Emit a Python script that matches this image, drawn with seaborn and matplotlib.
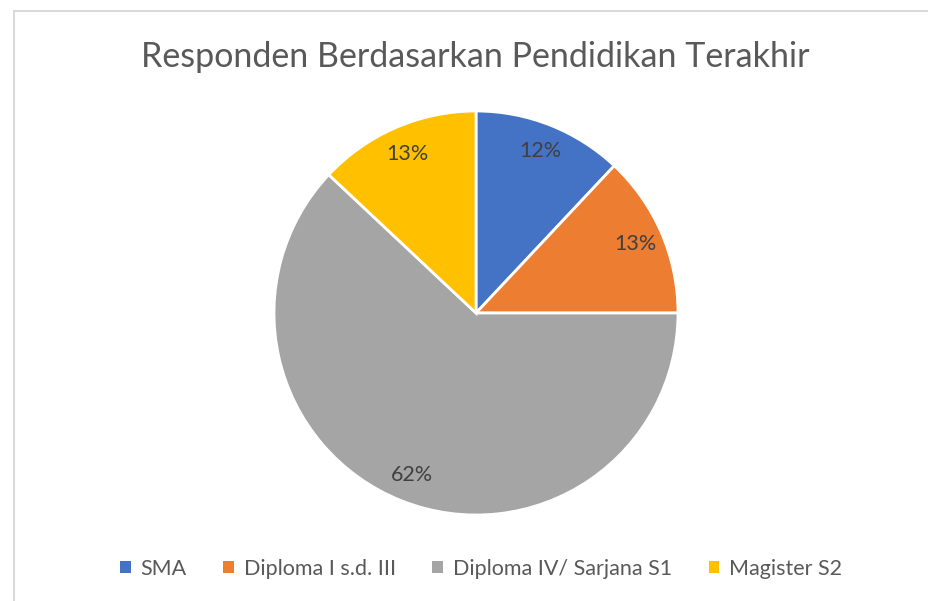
import matplotlib
matplotlib.use("Agg")
import matplotlib.pyplot as plt
from matplotlib.patches import Rectangle, Patch
import seaborn as sns

categories = ["SMA", "Diploma I s.d. III", "Diploma IV/ Sarjana S1", "Magister S2"]
values = [12, 13, 62, 13]
title = "Responden Berdasarkan Pendidikan Terakhir"

sns.set_theme(style="white")
plt.rcParams["font.family"] = ["Lato", "DejaVu Sans"]
colors = sns.color_palette(["#4472C4", "#ED7D31", "#A5A5A5", "#FFC000"])

W, H = 929, 601
fig = plt.figure(figsize=(W / 100, H / 100), dpi=100)
fig.patch.set_facecolor("white")

# chart border
fig.add_artist(Rectangle((14 / W, -0.05), 1.2, 1 - 11 / H + 0.05, transform=fig.transFigure,
                         fill=False, edgecolor="#D9D9D9", linewidth=1.5))

cx, cy, r = 476, 313, 202
ax = fig.add_axes([(cx - r) / W, (H - cy - r) / H, 2 * r / W, 2 * r / H])
wedges, texts, autotexts = ax.pie(
    values, colors=colors, startangle=90, counterclock=False,
    autopct="%1.0f%%", pctdistance=0.86,
    wedgeprops=dict(edgecolor="white", linewidth=2.0),
    textprops=dict(color="#404040", fontsize=15.5),
)
ax.set_xlim(-1, 1)
ax.set_ylim(-1, 1)
ax.set_aspect("auto")
for w in wedges:
    w.set_clip_on(False)

fig.text(475.5 / W, 1 - 57 / H, title, ha="center", va="center", fontsize=24.5, color="#595959")

handles = [Patch(facecolor=c, edgecolor="none") for c in colors]
fig.legend(handles, categories, loc="center", bbox_to_anchor=(481 / W, 1 - 569 / H), ncol=4,
           frameon=False, fontsize=15.5, labelcolor="#595959", handlelength=0.5, handleheight=0.5,
           handletextpad=0.45, columnspacing=1.7)

fig.savefig("out.png", dpi=100)
